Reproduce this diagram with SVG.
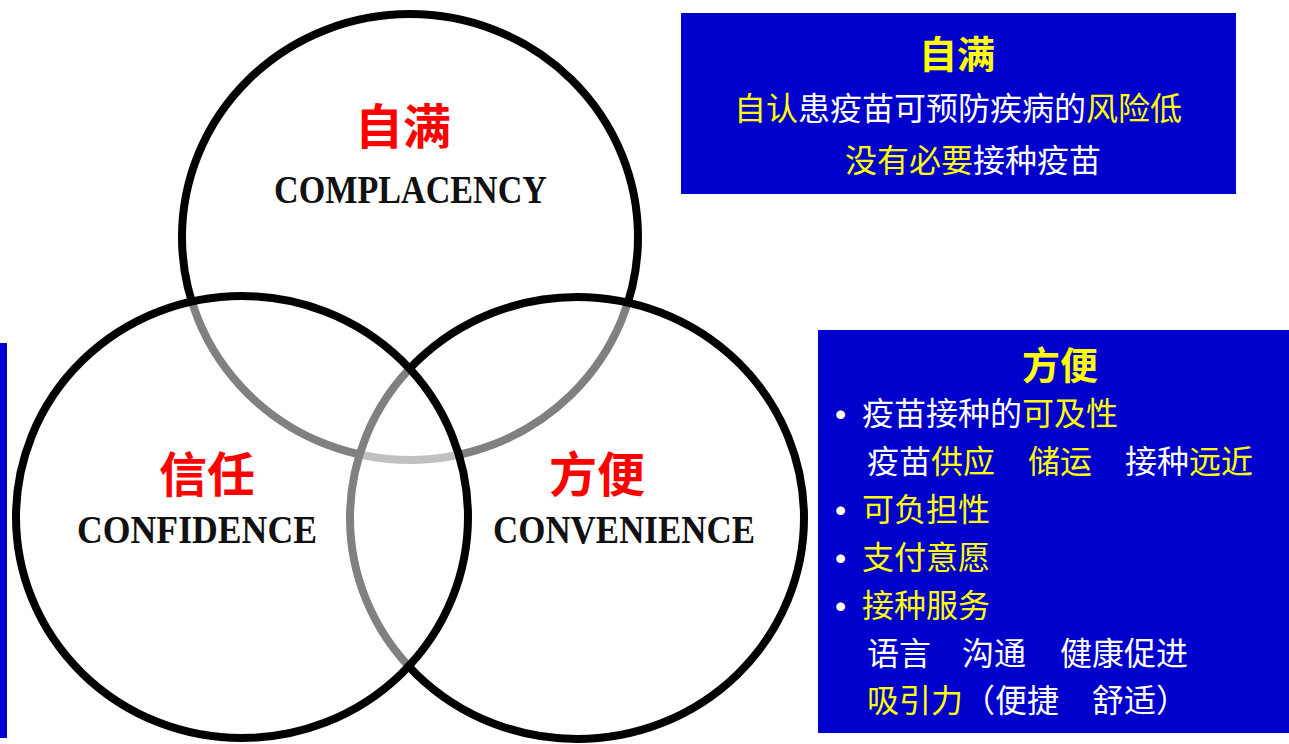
<svg xmlns="http://www.w3.org/2000/svg" width="1289" height="744" viewBox="0 0 1289 744">
<style>
.ring{stroke:#000;stroke-width:8}
.veil{fill:#fff;fill-opacity:0.5}
.zh{font-family:"Noto Sans CJK SC","Noto Sans",sans-serif}
.red{fill:#ff0000;font-size:48px;font-weight:bold;text-anchor:middle}
.en{font-family:"Liberation Serif","DejaVu Serif",serif;font-weight:bold;font-size:39px;fill:#111}
.box{fill:#0000cc}
.ttl{fill:#ffff00;font-size:38px;font-weight:bold;text-anchor:middle}
.ln{font-size:32px;fill:#fff}
.y{fill:#ffff00}
.w{fill:#fff}
.bul{font-family:"Liberation Sans",sans-serif;font-size:32px;fill:#fff}
</style>
<rect width="1289" height="744" fill="#fff"/>
<g id="bar-left"><rect x="0" y="343" width="7" height="395" class="box"/></g>
<g id="node-complacency">
<ellipse cx="410" cy="237" rx="228" ry="223" fill="none" class="ring"/>
<text x="403" y="144" class="zh red">自满</text>
<text x="274" y="203" class="en" textLength="273" lengthAdjust="spacingAndGlyphs">COMPLACENCY</text>
</g>
<g id="node-convenience">
<ellipse cx="577" cy="518" rx="227" ry="221" class="ring veil"/>
<text x="597" y="492" class="zh red">方便</text>
<text x="493" y="543" class="en" textLength="262" lengthAdjust="spacingAndGlyphs">CONVENIENCE</text>
</g>
<g id="node-confidence">
<ellipse cx="242" cy="517" rx="226" ry="221" class="ring veil"/>
<text x="207" y="492" class="zh red">信任</text>
<text x="77" y="543" class="en" textLength="240" lengthAdjust="spacingAndGlyphs">CONFIDENCE</text>
</g>
<g id="connectors"/>
<g id="box-complacency" class="zh">
<rect x="681" y="13" width="555" height="181" class="box"/>
<text x="957" y="68" class="ttl">自满</text>
<text x="734" y="120" class="ln"><tspan class="y">自认</tspan>患疫苗可预防疾病的<tspan class="y">风险低</tspan></text>
<text x="845" y="172" class="ln"><tspan class="y">没有必要</tspan>接种疫苗</text>
</g>
<g id="box-convenience" class="zh">
<rect x="818" y="330" width="471" height="403" class="box"/>
<text x="1060" y="379" class="ttl">方便</text>
<text x="835" y="425" class="bul">•</text>
<text x="862" y="425" class="ln">疫苗接种的<tspan class="y">可及性</tspan></text>
<text x="867" y="473" class="ln">疫苗<tspan class="y">供应</tspan><tspan x="1028" class="y">储运</tspan><tspan x="1125">接种</tspan><tspan class="y">远近</tspan></text>
<text x="835" y="521" class="bul">•</text>
<text x="862" y="521" class="ln y">可负担性</text>
<text x="835" y="569" class="bul">•</text>
<text x="862" y="569" class="ln y">支付意愿</text>
<text x="835" y="617" class="bul">•</text>
<text x="862" y="617" class="ln y">接种服务</text>
<text x="867" y="665" class="ln">语言<tspan x="962">沟通</tspan><tspan x="1060">健康促进</tspan></text>
<text x="867" y="712" class="ln"><tspan class="y">吸引力</tspan>（便捷<tspan x="1092">舒适）</tspan></text>
</g>
</svg>
